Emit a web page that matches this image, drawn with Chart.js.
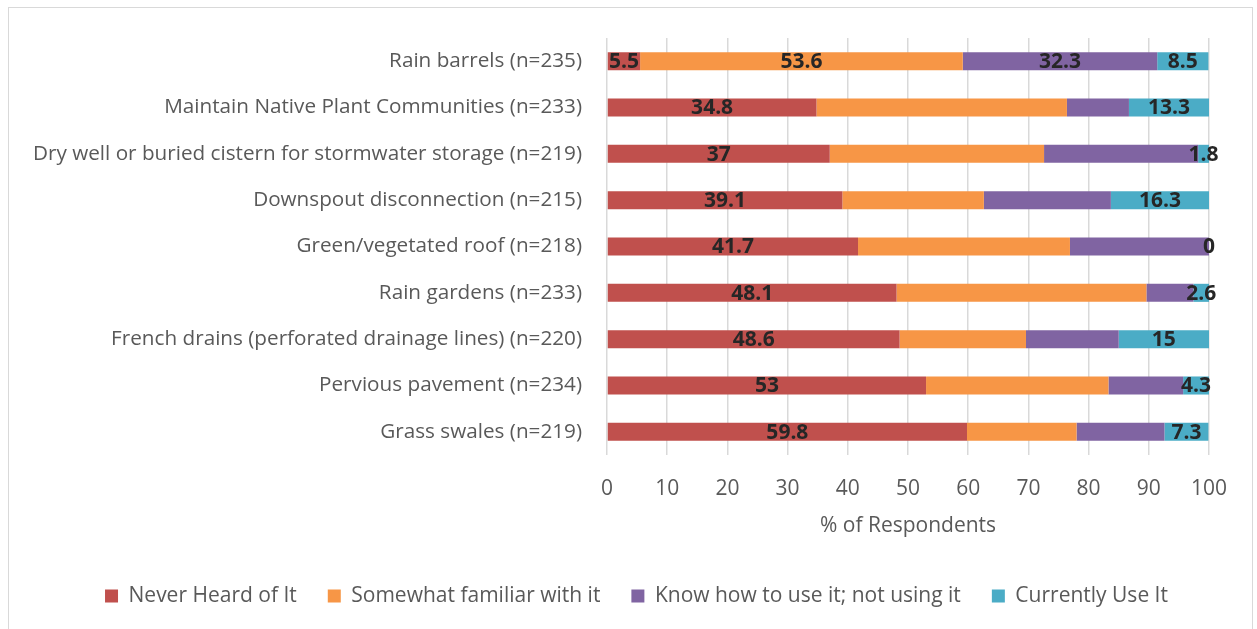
<!DOCTYPE html>
<html>
<head>
<meta charset="utf-8">
<script src="https://cdn.jsdelivr.net/npm/chart.js@4.4.1/dist/chart.umd.min.js"></script>
<style>
  html, body { margin: 0; padding: 0; background: #fff; }
  #wrap { position: relative; width: 1257px; height: 629px; overflow: hidden; }
  #frame { position: absolute; left: 8px; top: 7px; width: 1245px; height: 640px; border: 1.5px solid #d9d9d9; box-sizing: border-box; pointer-events: none; }
  canvas { position: absolute; left: 0; top: 0; }
</style>
</head>
<body>
<div id="wrap">
  <canvas id="chart" width="1257" height="629"></canvas>
  <div id="frame"></div>
</div>
<script>
const categories = [
  'Rain barrels (n=235)',
  'Maintain Native Plant Communities (n=233)',
  'Dry well or buried cistern for stormwater storage (n=219)',
  'Downspout disconnection (n=215)',
  'Green/vegetated roof (n=218)',
  'Rain gardens (n=233)',
  'French drains (perforated drainage lines) (n=220)',
  'Pervious pavement (n=234)',
  'Grass swales (n=219)'
];
const seriesNames = ['Never Heard of It', 'Somewhat familiar with it', 'Know how to use it; not using it', 'Currently Use It'];
const neverHeard = [5.5, 34.8, 37, 39.1, 41.7, 48.1, 48.6, 53, 59.8];
const somewhatFamiliar = [53.6, 41.6, 35.6, 23.5, 35.2, 41.5, 21.0, 30.3, 18.2];
const knowHow = [32.3, 10.3, 25.6, 21.1, 23.1, 7.8, 15.4, 12.4, 14.6];
const currentlyUse = [8.5, 13.3, 1.8, 16.3, 0, 2.6, 15, 4.3, 7.3];
const xTicks = [0, 10, 20, 30, 40, 50, 60, 70, 80, 90, 100];
// rows whose value label is shown (null = every row)
const labelRows = [null, [0], [0], null];

const colors = ['#C0504D', '#F79646', '#8064A2', '#4BACC6'];
const FONT = "'Open Sans', sans-serif";

// centred value labels, like Excel's "Center" data labels
const barLabels = {
  id: 'barLabels',
  afterDatasetsDraw(chart) {
    const ctx = chart.ctx;
    ctx.save();
    ctx.font = 'bold 21px ' + FONT;
    ctx.fillStyle = '#262626';
    ctx.textAlign = 'center';
    ctx.textBaseline = 'middle';
    chart.data.datasets.forEach((ds, di) => {
      const meta = chart.getDatasetMeta(di);
      meta.data.forEach((bar, i) => {
        const rows = labelRows[di];
        if (rows && !rows.includes(i)) return;
        const x = (bar.x + bar.base) / 2;
        ctx.fillText(String(ds.data[i]), x, bar.y + 1);
      });
    });
    ctx.restore();
  }
};

const seriesData = [neverHeard, somewhatFamiliar, knowHow, currentlyUse];

new Chart(document.getElementById('chart'), {
  type: 'bar',
  data: {
    labels: categories,
    datasets: seriesNames.map((name, k) => ({
      label: name,
      data: seriesData[k],
      backgroundColor: colors[k],
      borderWidth: 0,
      barPercentage: 0.39,
      categoryPercentage: 1
    }))
  },
  options: {
    indexAxis: 'y',
    responsive: false,
    animation: false,
    layout: { padding: { top: 38, left: 16, right: 0, bottom: 12.5 } },
    plugins: {
      legend: {
        position: 'bottom',
        labels: {
          boxWidth: 13, boxHeight: 13, padding: 31,
          color: '#595959', font: { family: FONT, size: 21 }
        }
      },
      tooltip: { enabled: false }
    },
    scales: {
      x: {
        stacked: true, min: 0, max: 100,
        afterBuildTicks(s) { s.ticks = xTicks.map((v) => ({ value: v })); },
        afterFit(s) { s.height = 99.5; },
        grid: { color: '#d9d9d9', lineWidth: 1.5, drawTicks: false },
        border: { display: false },
        ticks: { padding: 21, color: '#595959', font: { family: FONT, size: 21 } },
        title: {
          display: true, text: '% of Respondents', color: '#595959',
          font: { family: FONT, size: 21 }, padding: { top: 0, bottom: 16 }
        }
      },
      y: {
        stacked: true,
        afterFit(s) { s.width = 591; },
        grid: { display: false },
        border: { display: false },
        ticks: { padding: 17, color: '#595959', font: { family: FONT, size: 20.7 } }
      },
      y2: {
        type: 'linear', position: 'right', display: true,
        afterFit(s) { s.width = 48; },
        grid: { display: false },
        border: { display: false },
        ticks: { display: false }
      }
    }
  },
  plugins: [barLabels]
});
</script>
</body>
</html>
